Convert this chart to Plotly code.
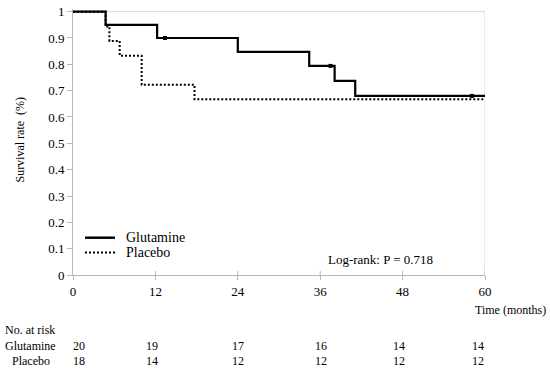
import plotly.graph_objects as go

# ---------------- data ----------------
glut_time = [0, 4.75, 12.25, 24.0, 34.4, 38.1, 41.1, 60]
glut_surv = [1.0, 0.95, 0.90, 0.847, 0.794, 0.737, 0.680, 0.680]
glut_cens_time = [13.4, 37.5, 58.1]
glut_cens_surv = [0.90, 0.794, 0.680]

plac_time = [0, 4.75, 5.3, 6.8, 10.0, 17.7, 60]
plac_surv = [1.0, 0.944, 0.889, 0.833, 0.722, 0.667, 0.667]

x_ticks = [0, 12, 24, 36, 48, 60]
y_ticks = [0, 0.1, 0.2, 0.3, 0.4, 0.5, 0.6, 0.7, 0.8, 0.9, 1.0]
y_tick_labels = ["0", "0.1", "0.2", "0.3", "0.4", "0.5", "0.6", "0.7", "0.8", "0.9", "1"]

groups = ["Glutamine", "Placebo"]
risk_glut = [20, 19, 17, 16, 14, 14]
risk_plac = [18, 14, 12, 12, 12, 12]
p_text = "Log-rank: P = 0.718"

# ---------------- layout helpers ----------------
W, H = 550, 371
ML, MR, MT, MB = 73, 65, 4, 96
PW = W - ML - MR
PH = H - MT - MB
Y_TOP = PH / 268.3  # so that y=1 sits ~6.7px from top


def px(xp):
    return (xp - ML) / PW


def py(yp):
    return (H - MB - yp) / PH


FONT = "Liberation Serif"
AXIS_COL = "#b7b7b7"
GRID_COL = "#d9d9d9"

fig = go.Figure()

fig.add_trace(go.Scatter(
    x=glut_time, y=glut_surv, mode="lines", line_shape="hv",
    line=dict(color="black", width=2.2), name=groups[0], showlegend=False))
fig.add_trace(go.Scatter(
    x=plac_time, y=plac_surv, mode="lines", line_shape="hv",
    line=dict(color="black", width=2, dash="2px,2px"), name=groups[1], showlegend=False))
fig.add_trace(go.Scatter(
    x=glut_cens_time, y=glut_cens_surv, mode="markers",
    marker=dict(symbol="square", size=4, color="black"), showlegend=False,
    cliponaxis=False))

shapes = []
shapes.append(dict(type="line", xref="x", yref="y", x0=0, x1=60, y0=1, y1=1,
                   line=dict(color=GRID_COL, width=1), layer="below"))
shapes.append(dict(type="line", xref="x", yref="y", x0=60, x1=60, y0=0, y1=1,
                   line=dict(color=GRID_COL, width=1), layer="below"))
for t in x_ticks[1:]:
    shapes.append(dict(type="line", xref="x", yref="paper", x0=t, x1=t,
                       y0=0, y1=4 / PH, line=dict(color=AXIS_COL, width=1)))
shapes.append(dict(type="line", xref="paper", yref="paper", x0=px(85), x1=px(115),
                   y0=py(237), y1=py(237), line=dict(color="black", width=2.5)))
shapes.append(dict(type="line", xref="paper", yref="paper", x0=px(85), x1=px(115),
                   y0=py(252), y1=py(252), line=dict(color="black", width=2, dash="2px,2px")))

ann = []


def add_text(text, xp, yp, size=12, xanchor="left", angle=0):
    ann.append(dict(text=text, xref="paper", yref="paper", x=px(xp), y=py(yp),
                    xanchor=xanchor, yanchor="middle", showarrow=False,
                    textangle=angle, font=dict(family=FONT, size=size, color="black")))


add_text(groups[0], 124, 237, size=14)
add_text(groups[1], 124, 252.5, size=14)
add_text(p_text, 326, 259, size=13)
add_text("Survival rate\u00a0\u00a0(%)", 20, 137, size=12, xanchor="center", angle=-90)
add_text("Time\u00a0(months)", 548, 311, size=12, xanchor="right")
add_text("No. at risk", 3, 331, size=12)
add_text(groups[0], 3, 347, size=12)
add_text(groups[1], 52, 362.5, size=12, xanchor="right")

risk_x = [71, 144, 230, 313, 391, 470]
for xp, g, p in zip(risk_x, risk_glut, risk_plac):
    add_text(str(g), xp, 347, size=12)
    add_text(str(p), xp, 362.5, size=12)

fig.update_layout(
    width=W, height=H,
    margin=dict(l=ML, r=MR, t=MT, b=MB, pad=0),
    paper_bgcolor="white", plot_bgcolor="white",
    font=dict(family=FONT, size=13, color="black"),
    showlegend=False,
    shapes=shapes, annotations=ann,
    xaxis=dict(range=[0, 60], tickmode="array", tickvals=x_ticks,
               ticks="outside", ticklen=4, tickcolor=AXIS_COL, tickwidth=1,
               showline=True, linecolor=AXIS_COL, linewidth=1,
               showgrid=False, zeroline=False, fixedrange=True,
               ticklabeloverflow="allow",
               tickfont=dict(family=FONT, size=13, color="black")),
    yaxis=dict(range=[0, Y_TOP], tickmode="array", tickvals=y_ticks,
               ticktext=y_tick_labels,
               ticks="outside", ticklen=5, tickcolor=AXIS_COL, tickwidth=1,
               showline=True, linecolor=AXIS_COL, linewidth=1,
               showgrid=False, zeroline=False, fixedrange=True,
               ticklabeloverflow="allow",
               tickfont=dict(family=FONT, size=13, color="black")),
)

fig.write_html("out.html", config={"displayModeBar": False},
               post_script="document.body.style.margin='0';document.body.style.padding='0';")
